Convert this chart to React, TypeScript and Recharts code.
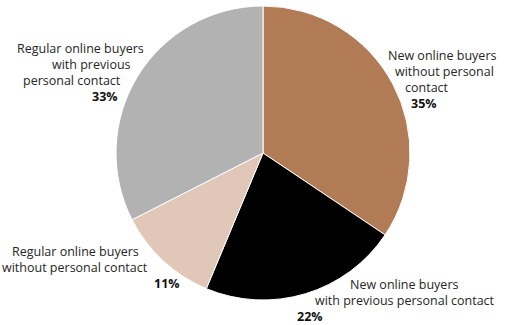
import { PieChart, Pie, Cell } from 'recharts'

const segments = [
  'New online buyers without personal contact',
  'New online buyers with previous personal contact',
  'Regular online buyers without personal contact',
  'Regular online buyers with previous personal contact',
]
const shares = [34.4, 21.9, 11.2, 32.5]
const shareLabels = ['35%', '22%', '11%', '33%']
const labelLines = [
  ['New online buyers', 'without personal', 'contact'],
  ['New online buyers', 'with previous personal contact'],
  ['Regular online buyers', 'without personal contact'],
  ['Regular online buyers', 'with previous', 'personal contact'],
]
const colors = ['#b07b55', '#000000', '#e0c7b8', '#b2b2b2']

// line offsets from the pie centre (last entry is the bold percentage)
const LABEL_LAYOUT: [number, number][][] = [
  [[125, -93], [132, -77], [142, -61], [148, -45]],
  [[87, 136], [52, 152], [34, 168]],
  [[-251, 103], [-261, 119], [-109, 135]],
  [[-246, -100], [-211, -84], [-240, -68], [-171, -52]],
]

const data = segments.map((name, i) => ({ name, value: shares[i] }))

function renderLabel(props: any) {
  const { cx, cy, index } = props
  const layout = LABEL_LAYOUT[index]
  const lines = labelLines[index]
  return (
    <g key={`lbl-${index}`}>
      {lines.map((line, j) => (
        <text
          key={j}
          x={cx + layout[j][0]}
          y={cy + layout[j][1]}
          fill="#262626"
          fontSize={12.5}
          fontFamily="'Open Sans', sans-serif"
        >
          {line}
        </text>
      ))}
      <text
        x={cx + layout[lines.length][0]}
        y={cy + layout[lines.length][1]}
        fill="#111"
        fontSize={12.5}
        fontWeight="bold"
        fontFamily="'Open Sans', sans-serif"
      >
        {shareLabels[index]}
      </text>
    </g>
  )
}

export default function App() {
  return (
    <div style={{ width: 506, height: 325 }}>
      <style>{'body{margin:0}'}</style>
      <PieChart width={506} height={325} margin={{ top: 0, right: 0, bottom: 0, left: 0 }}>
        <Pie
          data={data}
          dataKey="value"
          cx={263}
          cy={153}
          outerRadius={147}
          startAngle={90}
          endAngle={-270}
          stroke="#ffffff"
          strokeWidth={1}
          label={renderLabel}
          labelLine={false}
          isAnimationActive={false}
        >
          {data.map((d, i) => (
            <Cell key={d.name} fill={colors[i]} />
          ))}
        </Pie>
      </PieChart>
    </div>
  )
}
